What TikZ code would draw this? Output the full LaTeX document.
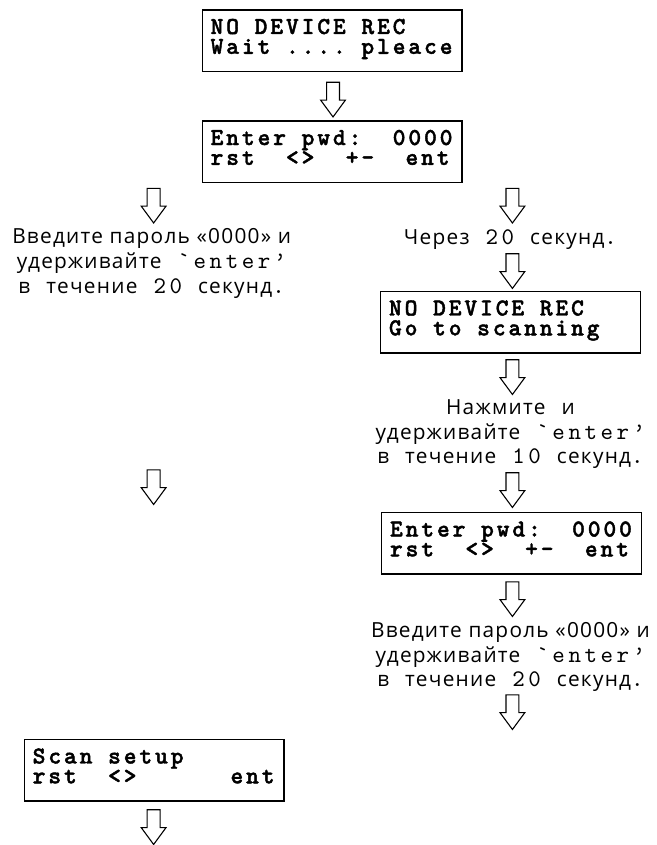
\documentclass[tikz,border=0pt]{standalone}
\usepackage{fontspec}
\setmainfont{Open Sans}[LetterSpace=6]
\newfontfamily\lcdface{lmmonolt10-bold.otf}[LetterSpace=12,FakeBold=1.7]
\newfontfamily\mtface{lmmono10-regular.otf}[LetterSpace=15]
\newcommand\mm[1]{{\mtface\fontsize{24}{25}\selectfont #1}}
\newcommand\twolines[2]{\rlap{\raisebox{20pt}{#1}}#2}
\begin{document}
\begin{tikzpicture}[x=1pt,y=-1pt,
  lcd/.style={draw, line width=1.4pt, rectangle, minimum width=262pt, minimum height=62pt, inner sep=0pt},
  lcdtxt/.style={anchor=base west, inner sep=0pt, font=\lcdface\fontsize{24.5}{20}\selectfont},
  note/.style={anchor=base, inner sep=0pt, font=\fontsize{21}{25}\selectfont},
  arrowline/.style={draw, fill=white, line width=1.1pt, line join=miter},
  darr/.pic={\path[arrowline] (-6.5,0) -- (6.5,0) -- (6.5,18) -- (12.5,18) -- (0,35) -- (-12.5,18) -- (-6.5,18) -- cycle;}]
\path[fill=white] (0,0) rectangle (662,845);

% boxes
\node[lcd] (b1) at (335,41) {};
\node[lcdtxt] (b1t) at ([shift={(9,45)}]b1.north west) {\twolines{NO~DEVICE~REC}{Wait~....~pleace}};

\node[lcd] (b2) at (335,153) {};
\node[lcdtxt] (b2t) at ([shift={(9,45)}]b2.north west) {\twolines{Enter~pwd:~~0000}{rst~~<>~~+-~~ent}};

\node[lcd] (b3) at (515,325) {};
\node[lcdtxt] (b3t) at ([shift={(9,45)}]b3.north west) {\twolines{NO~DEVICE~REC}{Go~to~scanning}};

\node[lcd] (b4) at (516,548) {};
\node[lcdtxt] (b4t) at ([shift={(9,45)}]b4.north west) {\twolines{Enter~pwd:~~0000}{rst~~<>~~+-~~ent}};

\node[lcd] (b5) at (155.5,777) {};
\node[lcdtxt] (b5t) at ([shift={(9,45)}]b5.north west) {\twolines{Scan~setup}{rst~~<>~~~~~~ent}};

% notes
\node[note] (l1) at (153,246) {Введите пароль «0000» и};
\node[note] (l2) at (153,271) {удерживайте\mm{\ `enter’}};
\node[note] (l3) at (153,296) {в\mm{\ }течение\mm{\ 20\ }секунд\mm{.}};

\node[note] (r1) at (515,247) {Через\mm{\ 20\ }секунд\mm{.}};

\node[note] (r2) at (515,418) {Нажмите\mm{\ }и};
\node[note] (r3) at (515,443) {удерживайте\mm{\ `enter’}};
\node[note] (r4) at (515,468) {в\mm{\ }течение\mm{\ 10\ }секунд\mm{.}};

\node[note] (r5) at (515,643) {Введите пароль «0000» и};
\node[note] (r6) at (515,668) {удерживайте\mm{\ `enter’}};
\node[note] (r7) at (515,693) {в\mm{\ }течение\mm{\ 20\ }секунд\mm{.}};

% arrows
\pic (a1) at (336,83) {darr};
\pic (a2) at (155,190) {darr};
\pic (a3) at (517,190) {darr};
\pic (a4) at (517,256) {darr};
\pic (a5) at (517,363) {darr};
\pic (a6) at (517,477) {darr};
\pic (al) at (155,474) {darr};
\pic (a7) at (517,587) {darr};
\pic (a8) at (517,701) {darr};
\pic (a9) at (155,817) {darr};
\end{tikzpicture}
\end{document}
